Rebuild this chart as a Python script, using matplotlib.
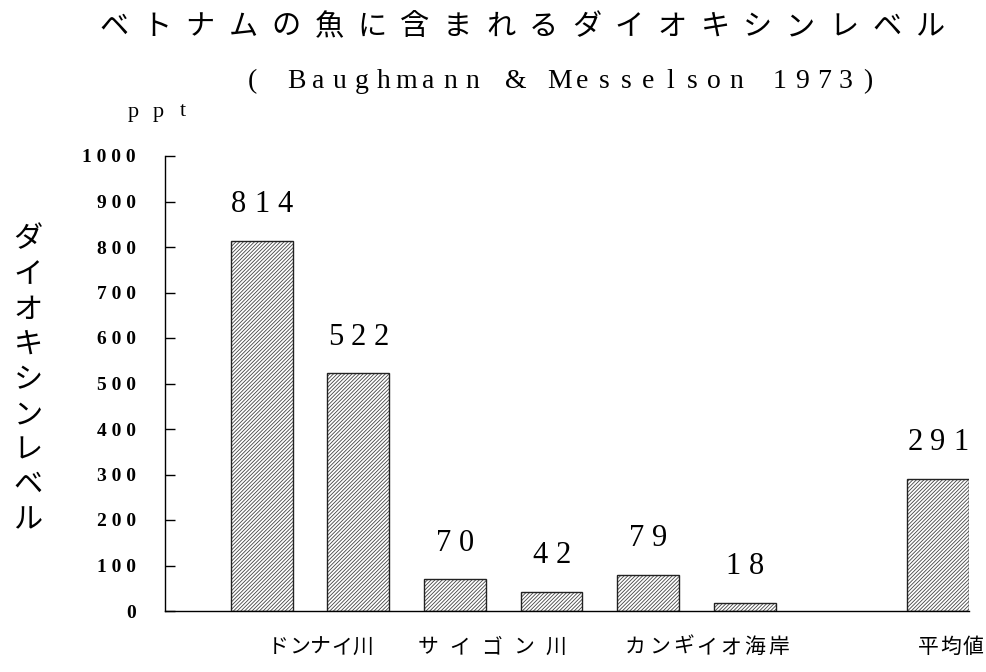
import numpy as np
import matplotlib
matplotlib.use("Agg")
import matplotlib.pyplot as plt

# data (ppt)
bar_pos = [0, 1, 2, 3, 4, 5, 7]
values = [814, 522, 70, 42, 79, 18, 291]
groups = ["ドンナイ川", "サイゴン川", "カンギイオ海岸", "平均値"]
group_x = [0.61, 2.38, 4.61, 7.13]
group_pitch = [21, 32, 24, 22.5]   # px between characters
yticks = list(range(0, 1001, 100))

title = "ベトナムの魚に含まれるダイオキシンレベル"
subtitle = "( Baughmann & Messelson 1973)"
ylabel = "ダイオキシンレベル"
unit = "ppt"

JP = "Noto Sans CJK JP"
SERIF = "Liberation Serif"
PX = 0.72  # points per pixel at dpi 100

plt.rcParams['hatch.linewidth'] = 0.6


def spaced(ax, s, xy, pitch_px, xycoords, vertical=False, dx=0, dy=0, **kw):
    # draw text with fixed character pitch, like the old word processor output
    n = len(s)
    for i, ch in enumerate(s):
        if ch == ' ':
            continue
        off = (i - (n - 1) / 2) * pitch_px * PX
        xt = (dx, dy - off) if vertical else (dx + off, dy)
        ax.annotate(ch, xy, xycoords=xycoords, xytext=xt, textcoords='offset points',
                    ha='center', va='center', annotation_clip=False, **kw)


fig = plt.figure(figsize=(9.86, 6.72), dpi=100)
ax = fig.add_axes([165 / 986, 61 / 672, 804 / 986, 455 / 672])

width = 0.64
ax.bar(bar_pos, values, width=width, color='white', edgecolor='#444444',
       hatch='/////////', linewidth=0, zorder=2)
ax.bar(bar_pos, values, width=width, fill=False, edgecolor='#222222',
       linewidth=1.0, zorder=3)

for x, v in zip(bar_pos, values):
    spaced(ax, str(v), (x, v), 23, 'data', dy=26, fontsize=22, family=SERIF)

ax.set_xlim(-1.0, 7.32)
ax.set_ylim(0, 1000)
ax.set_xticks([])
ax.set_yticks(yticks)
ax.set_yticklabels([' '.join(str(t)) for t in yticks], family=SERIF,
                   fontweight='bold', fontsize=14)
ax.tick_params(axis='y', direction='in', length=7, width=1, pad=21)
for side in ['top', 'right']:
    ax.spines[side].set_visible(False)
ax.spines['left'].set_linewidth(1)
ax.spines['bottom'].set_linewidth(1)

for name, gx, p in zip(groups, group_x, group_pitch):
    spaced(ax, name, (gx, 0), p, 'data', dy=-36 * PX, fontsize=15, family=JP)

# titles and axis text in figure pixels
spaced(ax, title, (522, 672 - 27), 42.9, 'figure pixels', fontsize=21, family=JP)
spaced(ax, subtitle, (560, 672 - 82), 22.0, 'figure pixels', fontsize=20, family=SERIF)
spaced(ax, unit, (158, 672 - 112), 24.5, 'figure pixels', fontsize=16, family=SERIF)
spaced(ax, ylabel, (28, 672 - 380), 35.1, 'figure pixels', vertical=True,
       fontsize=21, family=JP)

fig.savefig("out.png", dpi=100)
